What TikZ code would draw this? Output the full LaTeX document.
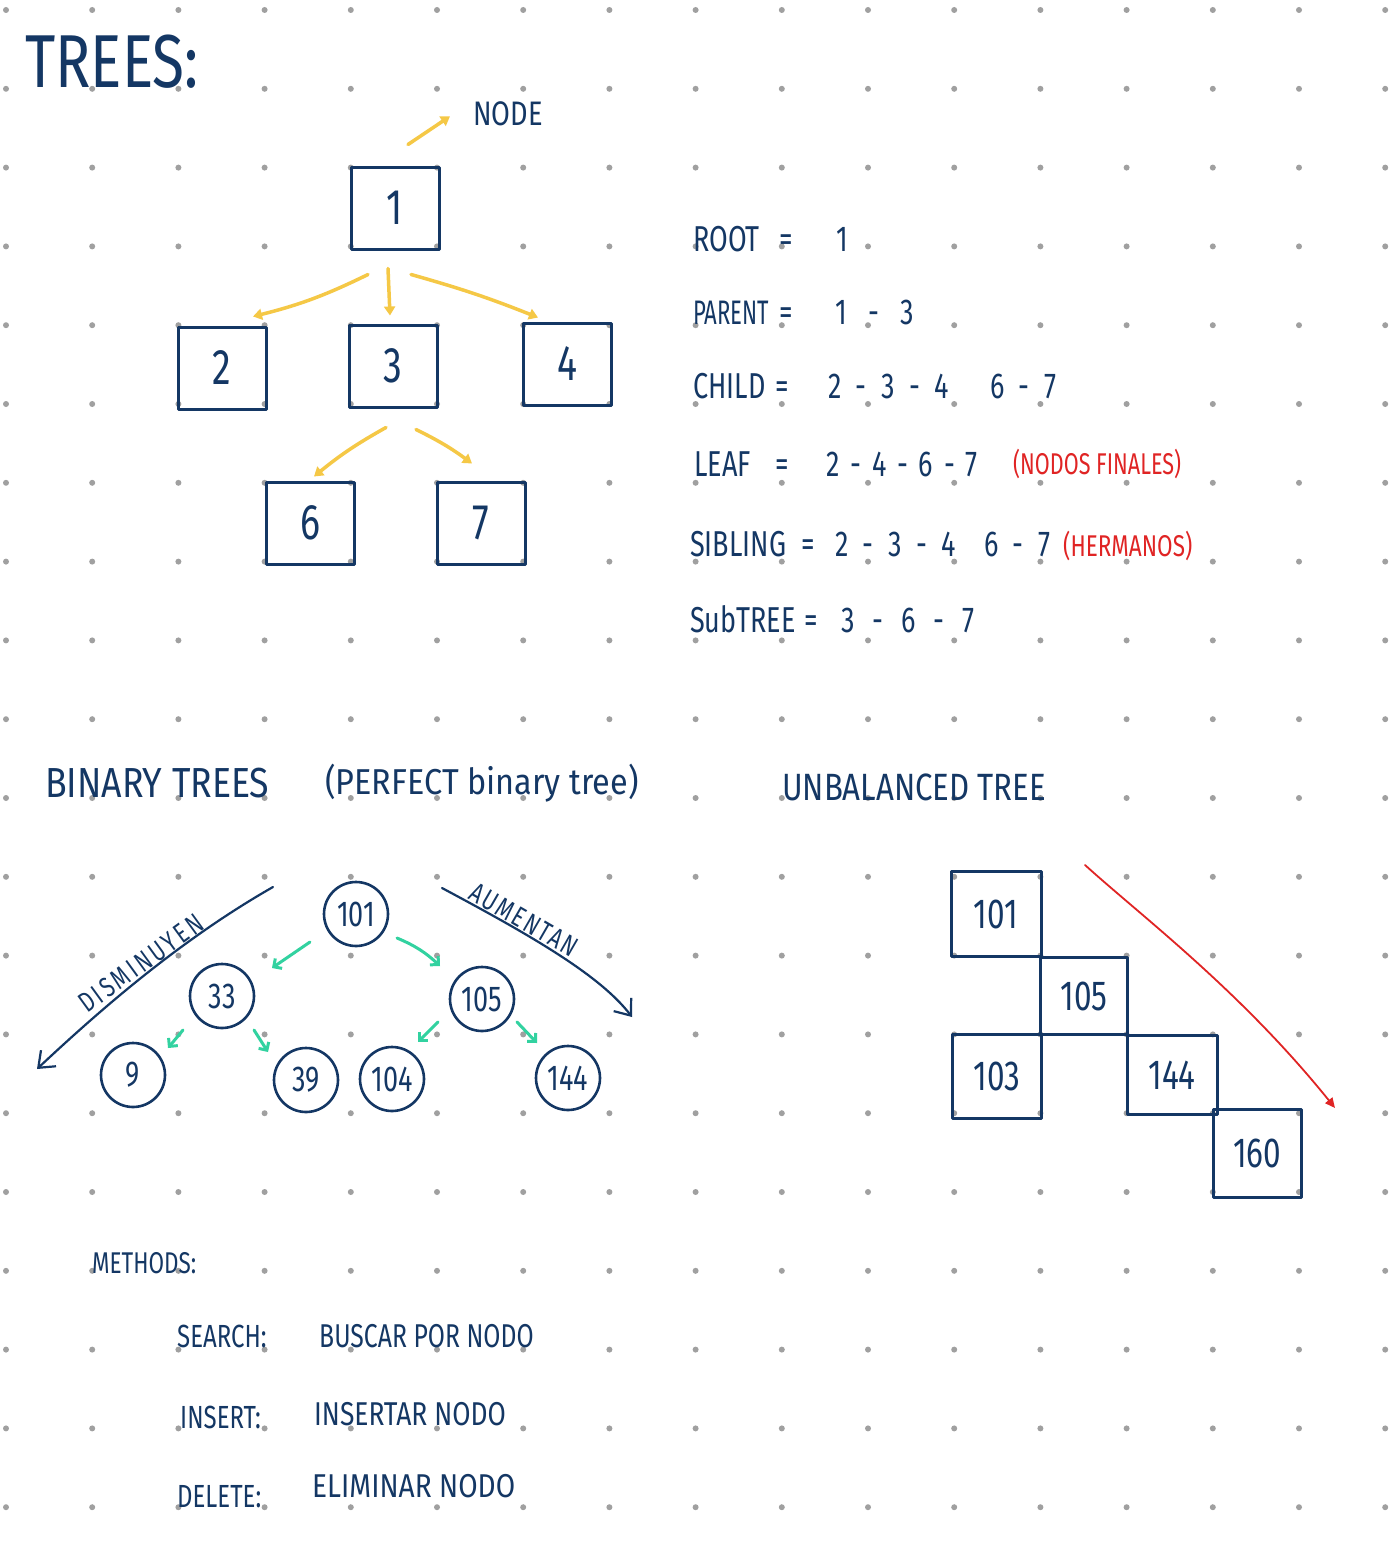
\documentclass[tikz,border=0pt]{standalone}
\usepackage{fontspec}
\setmainfont{Fira Sans}
\newfontfamily\hand[FakeStretch=0.75]{Fira Sans}
\usetikzlibrary{arrows.meta,calc}
\definecolor{navy}{HTML}{143764}
\definecolor{ylw}{HTML}{F5C846}
\definecolor{teal2}{HTML}{32D2A0}
\definecolor{redd}{HTML}{E02424}
\definecolor{dotgray}{HTML}{A0A0A0}
\newcommand\handsz[1]{\hand\fontsize{#1}{#1}\selectfont}
\newcommand\handx[2]{\fontspec[FakeStretch=#1]{Fira Sans}\fontsize{#2}{#2}\selectfont}
\newcommand\handls[2]{\fontspec[FakeStretch=0.75,LetterSpace=#1]{Fira Sans}\fontsize{#2}{#2}\selectfont}
\newcommand\dsh{\hspace{0.4em}-\hspace{0.4em}}
\newcommand\dshs{\hspace{0.3em}-\hspace{0.3em}}
\tikzset{
  txt/.style={anchor=base west, inner sep=0pt, text=navy},
  rtxt/.style={anchor=base west, inner sep=0pt, text=redd},
  tbox/.style={draw=navy, line width=3pt, line join=round, minimum width=88pt, minimum height=82pt, inner sep=0pt, text=navy, font=\handsz{50}},
  ubox/.style={draw=navy, line width=3pt, line join=round, inner sep=0pt, text=navy, font=\handsz{42}},
  cnode/.style={draw=navy, circle, line width=2.6pt, minimum size=64pt, inner sep=0pt, text=navy, font=\handsz{36}},
  yarr/.style={draw=ylw, line width=3.5pt, line cap=round, -{Triangle[length=9pt,width=11pt]}},
  tarr/.style={draw=teal2, line width=3pt, line cap=round, -{Straight Barb[length=6pt,width=12pt]}},
  narr/.style={draw=navy, line width=2.2pt, line cap=round, -{Straight Barb[length=14pt,width=22pt]}},
  rarr/.style={draw=redd, line width=1.8pt, line cap=round, -{Triangle[length=10pt,width=9pt]}}
}
\begin{document}
\begin{tikzpicture}[x=1pt,y=-1pt]
\useasboundingbox (0,0) rectangle (1394,1555);
\fill[white] (0,0) rectangle (1394,1555);
% dot grid
\foreach \i in {0,...,16}{
  \foreach \j in {0,...,19}{
    \fill[dotgray] (6+86.2*\i, 10+78.8*\j) circle (3pt);
  }
}
% ---------- Title ----------
\node[txt,font=\handx{0.78}{75}] (title) at (25,87) {TREES:};
\node[txt,font=\handx{0.8}{34}] (nodelbl) at (473,125) {NODE};
% ---------- General tree ----------
\node[tbox] (b1) at (395,208) {1};
\node[tbox] (b2) at (222,368) {2};
\node[tbox] (b3) at (393,366) {3};
\node[tbox] (b4) at (567,364) {4};
\node[tbox] (b6) at (310,523) {6};
\node[tbox] (b7) at (481,523) {7};
\draw[yarr] ($(b1.north)+(13,-21)$) -- ($(nodelbl.west)+(-23,3)$);
\draw[yarr] ($(b1.south)+(-27,24)$) to[bend left=6] ($(b2.north)+(31,-9)$);
\draw[yarr] ($(b1.south)+(-7,18)$) -- ($(b3.north)+(-3,-8)$);
\draw[yarr] ($(b1.south)+(16,24)$) to[bend left=3] ($(b4.north)+(-29,-4)$);
\draw[yarr] ($(b3.south)+(-7,19)$) to[bend right=5] ($(b6.north)+(4,-4)$);
\draw[yarr] ($(b3.south)+(23,21)$) to[bend left=5] ($(b7.north)+(-9,-17)$);
% ---------- Definitions ----------
\node[txt,font=\handsz{36}] (lroot) at (693,251) {ROOT};
\node[txt,font=\handsz{36}] (eroot) at (779,251) {=};
\node[txt,font=\handsz{36}] (vroot) at (836,251) {1};
\node[txt,font=\handx{0.65}{34}] (lpar) at (693,324) {PARENT};
\node[txt,font=\handsz{36}] (epar) at (779,324) {=};
\node[txt,font=\handsz{36}] (vpar) at (835,324) {1\hspace{0.6em}-\hspace{0.6em}3};
\node[txt,font=\handsz{36}] (lchi) at (693,398) {CHILD};
\node[txt,font=\handsz{36}] (echi) at (775,398) {=};
\node[txt,font=\handsz{36}] (vchi) at (828,398) {2\dsh 3\dsh 4};
\node[txt,font=\handsz{36}] (vchib) at (990,398) {6\dsh 7};
\node[txt,font=\handsz{36}] (lleaf) at (694,476) {LEAF};
\node[txt,font=\handsz{36}] (eleaf) at (775,476) {=};
\node[txt,font=\handsz{36}] (vleaf) at (826,476) {2\dshs 4\dshs 6\dshs 7};
\node[rtxt,font=\handx{0.72}{30}] (rleaf) at (1013,474) {(NODOS FINALES)};
\node[txt,font=\handsz{36}] (lsib) at (690,556) {SIBLING};
\node[txt,font=\handsz{36}] (esib) at (801,556) {=};
\node[txt,font=\handsz{36}] (vsib) at (835,556) {2\dsh 3\dsh 4};
\node[txt,font=\handsz{36}] (vsibb) at (984,556) {6\dsh 7};
\node[rtxt,font=\handsz{30}] (rsib) at (1063,556) {(HERMANOS)};
\node[txt,font=\handsz{36}] (lsub) at (690,632) {SubTREE};
\node[txt,font=\handsz{36}] (esub) at (804,632) {=};
\node[txt,font=\handsz{36}] (vsub) at (841,632) {3\hspace{0.5em}-\hspace{0.5em}6\hspace{0.5em}-\hspace{0.5em}7};
% ---------- Binary tree ----------
\node[txt,font=\handx{0.85}{42}] (bintitle) at (45,797) {BINARY TREES};
\node[txt,font=\handx{0.9}{36}] (perfect) at (325,794) {(PERFECT binary tree)};
\node[cnode] (c101) at (356,914) {101};
\node[cnode] (c33) at (222,996) {33};
\node[cnode] (c105) at (482,999) {105};
\node[cnode] (c9) at (133,1075) {9};
\node[cnode] (c39) at (306,1080) {39};
\node[cnode] (c104) at (392,1079) {104};
\node[cnode] (c144) at (568,1078) {144};
\draw[tarr] ($(c101)+(-46,28)$) -- ($(c33)+(50,-28)$);
\draw[tarr] ($(c101)+(41,24)$) to[bend left=10] ($(c105)+(-42,-33)$);
\draw[tarr] ($(c33)+(-39,34)$) -- ($(c9)+(35,-27)$);
\draw[tarr] ($(c33)+(32,34)$) -- ($(c39)+(-38,-28)$);
\draw[tarr] ($(c105)+(-44,23)$) -- ($(c104)+(26,-37)$);
\draw[tarr] ($(c105)+(35,23)$) -- ($(c144)+(-31,-35)$);
\coordinate (la) at (273,887);
\coordinate (lb) at (37,1069);
\coordinate (ra) at (442,888);
\coordinate (rb) at (632,1017);
\draw[narr] (la) .. controls (180,940) and (100,1010) .. (lb);
\draw[narr] (ra) .. controls (530,935) and (600,975) .. (rb);
\node[font=\handls{11}{28}, text=navy, inner sep=0pt, rotate=36] (dism) at (141,963) {DISMINUYEN};
\node[font=\handls{8}{28}, text=navy, inner sep=0pt, rotate=-30] (aum) at (524,920) {AUMENTAN};
% ---------- Unbalanced tree ----------
\node[txt,font=\handx{0.82}{38}] (unbtitle) at (782,800) {UNBALANCED TREE};
\node[ubox, minimum width=90pt, minimum height=85pt] (u101) at (996,914) {101};
\node[ubox, minimum width=87pt, minimum height=77pt] (u105) at (1084,996) {105};
\node[ubox, minimum width=89pt, minimum height=84pt] (u103) at (997,1076) {103};
\node[ubox, minimum width=90pt, minimum height=79pt] (u144) at (1172,1075) {144};
\node[ubox, minimum width=88pt, minimum height=88pt] (u160) at (1257,1153) {160};
\coordinate (ua) at (1085,865);
\coordinate (ub) at (1335,1108);
\draw[rarr] (ua) .. controls (1140,915) and (1240,990) .. (ub);
% ---------- Methods ----------
\node[txt,font=\handsz{30}] (meth) at (92,1273) {METHODS:};
\node[txt,font=\handsz{32}] (msearch) at (177,1347) {SEARCH:};
\node[txt,font=\handsz{33}] (dsearch) at (319,1347) {BUSCAR POR NODO};
\node[txt,font=\handsz{32}] (minsert) at (180,1428) {INSERT:};
\node[txt,font=\handx{0.8}{33}] (dinsert) at (314,1425) {INSERTAR NODO};
\node[txt,font=\handsz{32}] (mdelete) at (177,1507) {DELETE:};
\node[txt,font=\handx{0.85}{33}] (ddelete) at (312,1497) {ELIMINAR NODO};
\end{tikzpicture}
\end{document}
